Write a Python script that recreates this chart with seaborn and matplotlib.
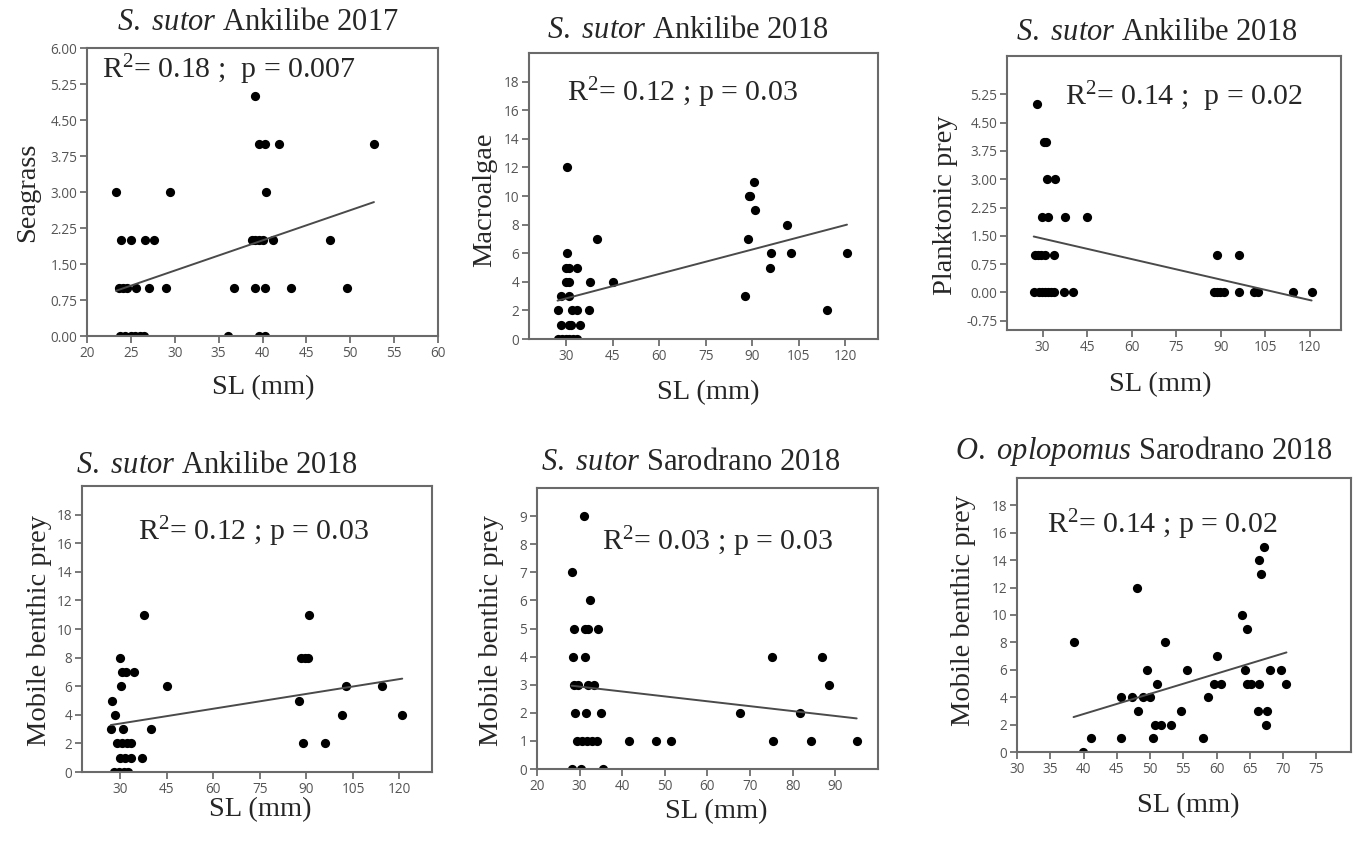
import numpy as np
import pandas as pd
import matplotlib
matplotlib.use("Agg")
import matplotlib.pyplot as plt
import seaborn as sns

# ---------------- data ----------------
# Panel 1: S. sutor Ankilibe 2017 - Seagrass
sl_a17 = [39.1,
          39.6, 40.3, 41.9, 52.7,
          23.3, 29.5, 40.4,
          23.9, 25.0, 26.6, 27.6, 38.8, 39.2, 39.6, 40.0, 41.2, 47.7,
          23.6, 24.1, 24.6, 25.6, 27.1, 29.0, 36.8, 39.1, 40.3, 43.2, 49.6,
          23.8, 24.3, 25.0, 25.5, 26.0, 26.5, 36.1, 39.6, 40.3]
seagrass_a17 = [5,
                4, 4, 4, 4,
                3, 3, 3,
                2, 2, 2, 2, 2, 2, 2, 2, 2, 2,
                1, 1, 1, 1, 1, 1, 1, 1, 1, 1, 1,
                0, 0, 0, 0, 0, 0, 0, 0, 0]

# Panel 2: S. sutor Ankilibe 2018 - Macroalgae
sl_a18_macro = [30.3, 90.4, 88.9, 89.2, 90.8, 101.3,
                39.9, 88.5,
                30.1, 96.0, 102.5, 120.5,
                29.8, 31.0, 33.5, 95.8,
                29.8, 31.0, 37.6, 45.0,
                28.2, 31.0, 87.5,
                27.4, 31.7, 33.5, 37.3, 114.2,
                28.2, 30.8, 31.6, 34.6,
                27.2, 28.5, 29.8, 31.0, 32.2, 33.4]
macroalgae_a18 = [12, 11, 10, 10, 9, 8,
                  7, 7,
                  6, 6, 6, 6,
                  5, 5, 5, 5,
                  4, 4, 4, 4,
                  3, 3, 3,
                  2, 2, 2, 2, 2,
                  1, 1, 1, 1,
                  0, 0, 0, 0, 0, 0]

# Panel 3: S. sutor Ankilibe 2018 - Planktonic prey
sl_a18_plank = [28.1,
                30.6, 31.2,
                31.6, 34.3,
                29.8, 31.9, 37.5, 45.0,
                27.3, 28.3, 29.5, 30.9, 33.8, 88.6, 96.1,
                27.0, 28.8, 29.8, 30.8, 31.8, 32.8, 33.8, 37.3, 40.1,
                87.6, 88.7, 89.9, 91.0, 96.0, 101.2, 102.4, 114.3, 120.6]
planktonic_a18 = [5,
                  4, 4,
                  3, 3,
                  2, 2, 2, 2,
                  1, 1, 1, 1, 1, 1, 1,
                  0, 0, 0, 0, 0, 0, 0, 0, 0,
                  0, 0, 0, 0, 0, 0, 0, 0, 0]

# Panel 4: S. sutor Ankilibe 2018 - Mobile benthic prey
sl_a18_benth = [37.5, 90.9,
                29.8, 88.3, 89.5, 90.6,
                30.6, 31.8, 34.3,
                30.3, 45.0, 102.7, 114.4,
                27.4, 87.7,
                28.2, 101.4, 120.9,
                26.9, 30.7, 39.7,
                28.9, 30.5, 32.1, 33.5, 89.0, 96.0,
                29.8, 31.6, 33.5, 37.0,
                28.0, 29.5, 31.0, 32.5]
benthic_a18 = [11, 11,
               8, 8, 8, 8,
               7, 7, 7,
               6, 6, 6, 6,
               5, 5,
               4, 4, 4,
               3, 3, 3,
               2, 2, 2, 2, 2, 2,
               1, 1, 1, 1,
               0, 0, 0, 0]

# Panel 5: S. sutor Sarodrano 2018 - Mobile benthic prey
sl_s18_sutor = [31.0, 28.2, 32.5,
                28.7, 31.3, 32.0, 34.2,
                28.4, 31.2, 75.1, 86.8,
                28.7, 29.6, 32.0, 33.4, 88.4,
                28.8, 31.6, 34.9, 67.7, 81.6,
                29.4, 30.5, 31.7, 32.9, 34.1, 41.7, 48.0, 51.4, 75.3, 84.3, 95.0,
                28.1, 30.4, 35.5]
benthic_s18_sutor = [9, 7, 6,
                     5, 5, 5, 5,
                     4, 4, 4, 4,
                     3, 3, 3, 3, 3,
                     2, 2, 2, 2, 2,
                     1, 1, 1, 1, 1, 1, 1, 1, 1, 1, 1,
                     0, 0, 0]

# Panel 6: O. oplopomus Sarodrano 2018 - Mobile benthic prey
sl_s18_oplo = [67.1, 66.3, 66.6, 48.1, 63.8, 64.5,
               38.5, 52.3, 60.0,
               49.6, 55.6, 64.3, 68.0, 69.7,
               51.1, 59.6, 60.7, 64.6, 65.1, 66.4, 70.5,
               45.6, 47.3, 48.9, 50.0, 58.7,
               48.2, 54.6, 66.2, 67.6,
               50.8, 51.6, 53.2, 67.4,
               41.1, 45.6, 50.4, 57.9,
               39.9]
benthic_s18_oplo = [15, 14, 13, 12, 10, 9,
                    8, 8, 7,
                    6, 6, 6, 6, 6,
                    5, 5, 5, 5, 5, 5, 5,
                    4, 4, 4, 4, 4,
                    3, 3, 3, 3,
                    2, 2, 2, 2,
                    1, 1, 1, 1,
                    0]

titles = [r"$\mathit{S.}$ $\mathit{sutor}$ Ankilibe 2017",
          r"$\mathit{S.}$ $\mathit{sutor}$ Ankilibe 2018",
          r"$\mathit{S.}$ $\mathit{sutor}$ Ankilibe 2018",
          r"$\mathit{S.}$ $\mathit{sutor}$ Ankilibe 2018",
          r"$\mathit{S.}$ $\mathit{sutor}$ Sarodrano 2018",
          r"$\mathit{O.}$ $\mathit{oplopomus}$ Sarodrano 2018"]
ylabels = ["Seagrass", "Macroalgae", "Planktonic prey",
           "Mobile benthic prey", "Mobile benthic prey", "Mobile benthic prey"]
xlabel = "SL (mm)"
stats = [r"R$^{2}$= 0.18 ;  p = 0.007",
         r"R$^{2}$= 0.12 ; p = 0.03",
         r"R$^{2}$= 0.14 ;  p = 0.02",
         r"R$^{2}$= 0.12 ; p = 0.03",
         r"R$^{2}$= 0.03 ; p = 0.03",
         r"R$^{2}$= 0.14 ; p = 0.02"]

xticks_p1 = [20, 25, 30, 35, 40, 45, 50, 55, 60]
yticks_p1 = [0.00, 0.75, 1.50, 2.25, 3.00, 3.75, 4.50, 5.25, 6.00]
xticks_a18 = [30, 45, 60, 75, 90, 105, 120]
yticks_p2 = [0, 2, 4, 6, 8, 10, 12, 14, 16, 18]
yticks_p3 = [-0.75, 0.00, 0.75, 1.50, 2.25, 3.00, 3.75, 4.50, 5.25]
xticks_p5 = [20, 30, 40, 50, 60, 70, 80, 90]
yticks_p5 = [0, 1, 2, 3, 4, 5, 6, 7, 8, 9]
xticks_p6 = [30, 35, 40, 45, 50, 55, 60, 65, 70, 75]

# ---------------- style ----------------
sns.set_theme(style="white")
plt.rcParams["font.family"] = ["Liberation Serif", "DejaVu Serif"]
plt.rcParams["mathtext.fontset"] = "custom"
plt.rcParams["mathtext.rm"] = "Liberation Serif"
plt.rcParams["mathtext.it"] = "Liberation Serif:italic"
plt.rcParams["mathtext.bf"] = "Liberation Serif:bold"

W, H = 1360, 846
fig = plt.figure(figsize=(W / 100, H / 100), dpi=100)
fig.patch.set_facecolor("white")

def px_axes(l, t, r, b):
    return fig.add_axes([l / W, 1 - b / H, (r - l) / W, (b - t) / H])

panels = [
    dict(box=(87, 48, 438, 336), x=sl_a17, y=seagrass_a17, xlim=(20, 60), ylim=(0, 6.0),
         xt=xticks_p1, yt=yticks_p1, yfmt="{:.2f}",
         title_xy=(258, 22), ylab_xy=(28, 192), xlab_xy=(263, 388), stat_xy=(102, 70)),
    dict(box=(529, 53, 878, 339), x=sl_a18_macro, y=macroalgae_a18, xlim=(18, 130.5), ylim=(0, 20),
         xt=xticks_a18, yt=yticks_p2, yfmt="{:d}",
         title_xy=(688, 30), ylab_xy=(485, 200), xlab_xy=(708, 393), stat_xy=(567, 93)),
    dict(box=(1007, 56, 1341, 330), x=sl_a18_plank, y=planktonic_a18, xlim=(18, 130.5), ylim=(-1.0, 6.27),
         xt=xticks_a18, yt=yticks_p3, yfmt="{:.2f}",
         title_xy=(1157, 33), ylab_xy=(945, 205), xlab_xy=(1160, 385), stat_xy=(1065, 97)),
    dict(box=(82, 486, 432, 772), x=sl_a18_benth, y=benthic_a18, xlim=(17.6, 130.5), ylim=(0, 20),
         xt=xticks_a18, yt=yticks_p2, yfmt="{:d}",
         title_xy=(217, 465), ylab_xy=(40, 630), xlab_xy=(260, 810), stat_xy=(138, 532)),
    dict(box=(537, 488, 878, 769), x=sl_s18_sutor, y=benthic_s18_sutor, xlim=(20, 100), ylim=(0, 10),
         xt=xticks_p5, yt=yticks_p5, yfmt="{:d}",
         title_xy=(691, 462), ylab_xy=(492, 630), xlab_xy=(716, 812), stat_xy=(602, 542)),
    dict(box=(1017, 478, 1351, 752), x=sl_s18_oplo, y=benthic_s18_oplo, xlim=(30, 80.2), ylim=(0, 20),
         xt=xticks_p6, yt=yticks_p2, yfmt="{:d}",
         title_xy=(1144, 451), ylab_xy=(963, 610), xlab_xy=(1188, 806), stat_xy=(1047, 525)),
]

for i, p in enumerate(panels):
    ax = px_axes(*p["box"])
    df = pd.DataFrame({"SL": p["x"], "val": p["y"]})
    sns.regplot(data=df, x="SL", y="val", ax=ax, ci=None, truncate=True,
                scatter_kws=dict(s=44, color="black", linewidths=0, alpha=1),
                line_kws=dict(color="#4a4a4a", lw=1.4))
    ax.set_xlim(*p["xlim"])
    ax.set_ylim(*p["ylim"])
    ax.set_xticks(p["xt"])
    ax.set_xticklabels([str(v) for v in p["xt"]])
    ax.set_yticks(p["yt"])
    ax.set_yticklabels([p["yfmt"].format(v) for v in p["yt"]])
    ax.set_xlabel("")
    ax.set_ylabel("")
    for s in ax.spines.values():
        s.set_visible(True)
        s.set_color("#6a6a6a")
        s.set_linewidth(1.5)
    ax.tick_params(axis="both", direction="out", length=5, width=1.1, color="#555555",
                   labelcolor="#555555", labelsize=9.8, pad=2, bottom=True, left=True)
    for lab in ax.get_xticklabels() + ax.get_yticklabels():
        lab.set_family(["Open Sans", "DejaVu Sans"])
    ax.set_facecolor("white")

    tx, ty = p["title_xy"]
    fig.text(tx / W, 1 - ty / H, titles[i], ha="center", va="center", fontsize=22,
             family=["Liberation Serif", "DejaVu Serif"])
    yx, yy = p["ylab_xy"]
    fig.text(yx / W, 1 - yy / H, ylabels[i], ha="center", va="center", fontsize=20.5,
             rotation=90, family=["Liberation Serif", "DejaVu Serif"])
    xx, xy = p["xlab_xy"]
    fig.text(xx / W, 1 - xy / H, xlabel, ha="center", va="center", fontsize=20.5,
             family=["Liberation Serif", "DejaVu Serif"])
    sx, sy = p["stat_xy"]
    fig.text(sx / W, 1 - sy / H, stats[i], ha="left", va="center", fontsize=21.5,
             family=["Liberation Serif", "DejaVu Serif"])

fig.savefig("out.png", dpi=100, facecolor="white")
